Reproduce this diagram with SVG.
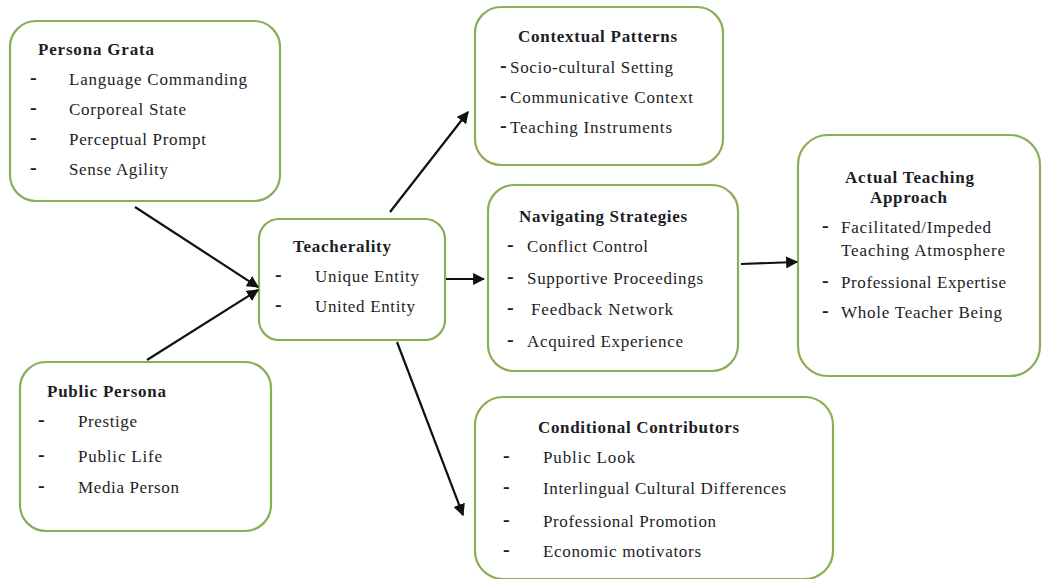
<svg xmlns="http://www.w3.org/2000/svg" width="1045" height="579" viewBox="0 0 1045 579">
<defs>
<style>
.box{fill:#ffffff;stroke:#8aae55;stroke-width:2.2}
text{font-family:'Liberation Serif','DejaVu Serif','Times New Roman',serif}
.t{font-size:17px;fill:#1d1d26}
.b{font-weight:bold}
.d{font-size:20px;font-weight:bold;fill:#1d1d26}
.arr{stroke:#111;stroke-width:2.2;fill:none;marker-end:url(#ah)}
</style>
<marker id="ah" viewBox="0 0 10 10" refX="9" refY="5" markerWidth="5.5" markerHeight="5.5" orient="auto" markerUnits="strokeWidth">
<path d="M0,0 L10,5 L0,10 Z" fill="#111"/>
</marker>
</defs>
<rect width="1045" height="579" fill="#ffffff"/>

<g id="persona-grata">
<rect class="box" x="10" y="21" width="270" height="180" rx="26"/>
<text class="t b" x="38" y="55" textLength="116" lengthAdjust="spacing">Persona Grata</text>
<text class="d" x="30" y="84">-</text><text class="t" x="69" y="85" textLength="178" lengthAdjust="spacing">Language Commanding</text>
<text class="d" x="30" y="114">-</text><text class="t" x="69" y="115" textLength="117" lengthAdjust="spacing">Corporeal State</text>
<text class="d" x="30" y="144">-</text><text class="t" x="69" y="145" textLength="137" lengthAdjust="spacing">Perceptual Prompt</text>
<text class="d" x="30" y="174">-</text><text class="t" x="69" y="175" textLength="99" lengthAdjust="spacing">Sense Agility</text>
</g>

<g id="public-persona">
<rect class="box" x="20" y="362" width="251" height="169" rx="26"/>
<text class="t b" x="47" y="397" textLength="119" lengthAdjust="spacing">Public Persona</text>
<text class="d" x="38" y="426">-</text><text class="t" x="78" y="427" textLength="59" lengthAdjust="spacing">Prestige</text>
<text class="d" x="38" y="461">-</text><text class="t" x="78" y="462" textLength="84" lengthAdjust="spacing">Public Life</text>
<text class="d" x="38" y="492">-</text><text class="t" x="78" y="493" textLength="101" lengthAdjust="spacing">Media Person</text>
</g>

<g id="teacherality">
<rect class="box" x="259" y="219" width="186" height="121" rx="20"/>
<text class="t b" x="293" y="252" textLength="98" lengthAdjust="spacing">Teacherality</text>
<text class="d" x="275" y="281">-</text><text class="t" x="315" y="282" textLength="104" lengthAdjust="spacing">Unique Entity</text>
<text class="d" x="275" y="311">-</text><text class="t" x="315" y="312" textLength="100" lengthAdjust="spacing">United Entity</text>
</g>

<g id="contextual-patterns">
<rect class="box" x="475" y="7" width="248" height="158" rx="26"/>
<text class="t b" x="518" y="42" textLength="159" lengthAdjust="spacing">Contextual Patterns</text>
<text class="d" x="500" y="72">-</text><text class="t" x="510" y="73" textLength="163" lengthAdjust="spacing">Socio-cultural Setting</text>
<text class="d" x="500" y="102">-</text><text class="t" x="510" y="103" textLength="183" lengthAdjust="spacing">Communicative Context</text>
<text class="d" x="500" y="132">-</text><text class="t" x="510" y="133" textLength="162" lengthAdjust="spacing">Teaching Instruments</text>
</g>

<g id="navigating-strategies">
<rect class="box" x="488" y="185" width="250" height="186" rx="26"/>
<text class="t b" x="519" y="222" textLength="168" lengthAdjust="spacing">Navigating Strategies</text>
<text class="d" x="507" y="251">-</text><text class="t" x="527" y="252" textLength="121" lengthAdjust="spacing">Conflict Control</text>
<text class="d" x="507" y="283">-</text><text class="t" x="527" y="284" textLength="176" lengthAdjust="spacing">Supportive Proceedings</text>
<text class="d" x="507" y="314">-</text><text class="t" x="531" y="315" textLength="142" lengthAdjust="spacing">Feedback Network</text>
<text class="d" x="507" y="346">-</text><text class="t" x="527" y="347" textLength="156" lengthAdjust="spacing">Acquired Experience</text>
</g>

<g id="actual-teaching-approach">
<rect class="box" x="798" y="135" width="242" height="241" rx="30"/>
<text class="t b" x="845" y="183" textLength="129" lengthAdjust="spacing">Actual Teaching</text>
<text class="t b" x="870" y="203" textLength="77" lengthAdjust="spacing">Approach</text>
<text class="d" x="822" y="232">-</text><text class="t" x="841" y="233" textLength="150" lengthAdjust="spacing">Facilitated/Impeded</text>
<text class="t" x="841" y="256" textLength="164" lengthAdjust="spacing">Teaching Atmosphere</text>
<text class="d" x="822" y="287">-</text><text class="t" x="841" y="288" textLength="165" lengthAdjust="spacing">Professional Expertise</text>
<text class="d" x="822" y="317">-</text><text class="t" x="841" y="318" textLength="161" lengthAdjust="spacing">Whole Teacher Being</text>
</g>

<g id="conditional-contributors">
<rect class="box" x="475" y="397" width="358" height="182" rx="28"/>
<text class="t b" x="538" y="433" textLength="201" lengthAdjust="spacing">Conditional Contributors</text>
<text class="d" x="503" y="462">-</text><text class="t" x="543" y="463" textLength="92" lengthAdjust="spacing">Public Look</text>
<text class="d" x="503" y="493">-</text><text class="t" x="543" y="494" textLength="243" lengthAdjust="spacing">Interlingual Cultural Differences</text>
<text class="d" x="503" y="526">-</text><text class="t" x="543" y="527" textLength="173" lengthAdjust="spacing">Professional Promotion</text>
<text class="d" x="503" y="556">-</text><text class="t" x="543" y="557" textLength="158" lengthAdjust="spacing">Economic motivators</text>
</g>

<g id="connectors">
<line class="arr" x1="135" y1="207" x2="258" y2="287"/>
<line class="arr" x1="147" y1="360" x2="258" y2="290"/>
<line class="arr" x1="390" y1="212" x2="468" y2="112"/>
<line class="arr" x1="446" y1="279" x2="484" y2="279"/>
<line class="arr" x1="741" y1="264" x2="797" y2="262"/>
<line class="arr" x1="397" y1="342" x2="463" y2="515"/>
</g>
</svg>
